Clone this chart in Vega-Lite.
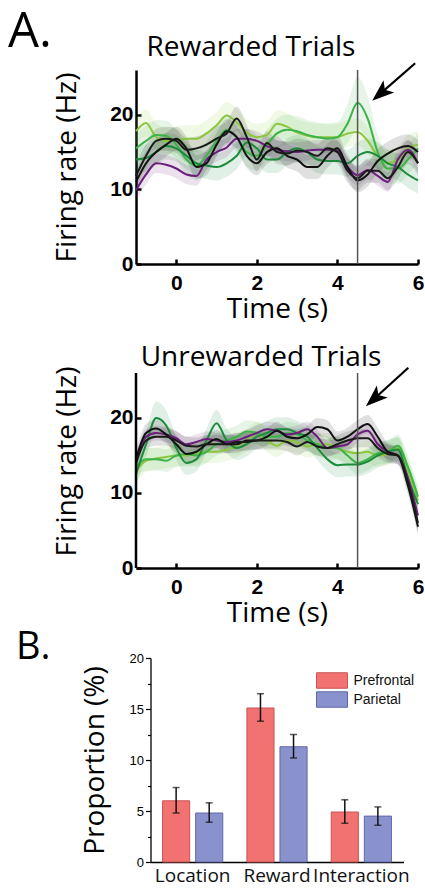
{
"$schema":"https://vega.github.io/schema/vega-lite/v6.json",
"background":"white",
"padding":{"left":8,"top":8,"right":0,"bottom":0},
"bounds":"flush","center":true,"spacing":90,
"resolve":{"legend":{"fill":"independent","stroke":"independent","color":"independent"}},
"title":{"text":"A.","anchor":"start","frame":"bounds","dx":-8,"dy":62,"offset":0,"fontSize":49,"font":"Open Sans","fontWeight":"normal","baseline":"alphabetic","color":"black"},
"config":{"view":{"stroke":null},"font":"Open Sans","axis":{"grid":false,"domainColor":"black","tickColor":"black","labelColor":"black","titleColor":"black"}},
"datasets":{
"rew":[
{"s":"L","t":-1,"v":17.8,"lo":16.0,"hi":19.6},{"s":"L","t":-0.75,"v":18.9,"lo":17.1,"hi":20.7},{"s":"L","t":-0.5,"v":17.0,"lo":15.2,"hi":18.8},{"s":"L","t":-0.25,"v":16.5,"lo":14.7,"hi":18.3},{"s":"L","t":0,"v":16.6,"lo":14.8,"hi":18.4},{"s":"L","t":0.25,"v":16.8,"lo":15.0,"hi":18.6},{"s":"L","t":0.5,"v":16.8,"lo":15.0,"hi":18.6},{"s":"L","t":0.75,"v":17.5,"lo":15.7,"hi":19.3},{"s":"L","t":1,"v":18.6,"lo":16.8,"hi":20.4},{"s":"L","t":1.25,"v":19.9,"lo":18.1,"hi":21.7},{"s":"L","t":1.5,"v":19.0,"lo":17.2,"hi":20.8},{"s":"L","t":1.75,"v":17.6,"lo":15.8,"hi":19.4},{"s":"L","t":2,"v":17.0,"lo":15.2,"hi":18.8},{"s":"L","t":2.25,"v":17.3,"lo":15.5,"hi":19.1},{"s":"L","t":2.5,"v":18.8,"lo":17.0,"hi":20.6},{"s":"L","t":2.75,"v":18.4,"lo":16.6,"hi":20.2},{"s":"L","t":3,"v":17.6,"lo":15.8,"hi":19.4},{"s":"L","t":3.25,"v":17.2,"lo":15.4,"hi":19.0},{"s":"L","t":3.5,"v":17.0,"lo":15.2,"hi":18.8},{"s":"L","t":3.75,"v":17.0,"lo":15.2,"hi":18.8},{"s":"L","t":4,"v":17.0,"lo":15.2,"hi":18.8},{"s":"L","t":4.25,"v":17.5,"lo":15.7,"hi":19.3},{"s":"L","t":4.5,"v":17.7,"lo":15.9,"hi":19.5},{"s":"L","t":4.75,"v":16.5,"lo":14.7,"hi":18.3},{"s":"L","t":5,"v":14.5,"lo":12.7,"hi":16.3},{"s":"L","t":5.25,"v":13.5,"lo":11.7,"hi":15.3},{"s":"L","t":5.5,"v":14.0,"lo":12.2,"hi":15.8},{"s":"L","t":5.75,"v":15.5,"lo":13.7,"hi":17.3},{"s":"L","t":6,"v":16.0,"lo":14.2,"hi":17.8},
{"s":"M","t":-1,"v":15.5,"lo":13.5,"hi":17.5},{"s":"M","t":-0.75,"v":16.5,"lo":14.5,"hi":18.5},{"s":"M","t":-0.5,"v":17.3,"lo":15.3,"hi":19.3},{"s":"M","t":-0.25,"v":17.2,"lo":15.2,"hi":19.2},{"s":"M","t":0,"v":16.0,"lo":14.0,"hi":18.0},{"s":"M","t":0.25,"v":14.0,"lo":12.0,"hi":16.0},{"s":"M","t":0.5,"v":13.2,"lo":11.2,"hi":15.2},{"s":"M","t":0.75,"v":14.5,"lo":12.5,"hi":16.5},{"s":"M","t":1,"v":16.5,"lo":14.5,"hi":18.5},{"s":"M","t":1.25,"v":18.0,"lo":16.0,"hi":20.0},{"s":"M","t":1.5,"v":17.0,"lo":15.0,"hi":19.0},{"s":"M","t":1.75,"v":15.0,"lo":13.0,"hi":17.0},{"s":"M","t":2,"v":14.5,"lo":12.5,"hi":16.5},{"s":"M","t":2.25,"v":16.0,"lo":14.0,"hi":18.0},{"s":"M","t":2.5,"v":17.5,"lo":15.5,"hi":19.5},{"s":"M","t":2.75,"v":18.0,"lo":16.0,"hi":20.0},{"s":"M","t":3,"v":17.8,"lo":15.8,"hi":19.8},{"s":"M","t":3.25,"v":17.3,"lo":15.3,"hi":19.3},{"s":"M","t":3.5,"v":17.0,"lo":15.0,"hi":19.0},{"s":"M","t":3.75,"v":16.8,"lo":14.8,"hi":18.8},{"s":"M","t":4,"v":17.0,"lo":15.0,"hi":19.0},{"s":"M","t":4.25,"v":18.8,"lo":16.2,"hi":21.4},{"s":"M","t":4.5,"v":21.6,"lo":18.1,"hi":25.1},{"s":"M","t":4.75,"v":19.5,"lo":16.5,"hi":22.5},{"s":"M","t":5,"v":15.0,"lo":12.7,"hi":17.3},{"s":"M","t":5.25,"v":12.8,"lo":10.8,"hi":14.8},{"s":"M","t":5.5,"v":12.8,"lo":10.8,"hi":14.8},{"s":"M","t":5.75,"v":14.0,"lo":12.0,"hi":16.0},{"s":"M","t":6,"v":15.5,"lo":13.5,"hi":17.5},
{"s":"D","t":-1,"v":14.0,"lo":12.2,"hi":15.8},{"s":"D","t":-0.75,"v":14.2,"lo":12.4,"hi":16.0},{"s":"D","t":-0.5,"v":15.0,"lo":13.2,"hi":16.8},{"s":"D","t":-0.25,"v":15.8,"lo":14.0,"hi":17.6},{"s":"D","t":0,"v":15.5,"lo":13.7,"hi":17.3},{"s":"D","t":0.25,"v":14.5,"lo":12.7,"hi":16.3},{"s":"D","t":0.5,"v":13.5,"lo":11.7,"hi":15.3},{"s":"D","t":0.75,"v":13.2,"lo":11.4,"hi":15.0},{"s":"D","t":1,"v":13.0,"lo":11.2,"hi":14.8},{"s":"D","t":1.25,"v":13.5,"lo":11.7,"hi":15.3},{"s":"D","t":1.5,"v":14.5,"lo":12.7,"hi":16.3},{"s":"D","t":1.75,"v":16.3,"lo":14.5,"hi":18.1},{"s":"D","t":2,"v":15.5,"lo":13.7,"hi":17.3},{"s":"D","t":2.25,"v":14.0,"lo":12.2,"hi":15.8},{"s":"D","t":2.5,"v":14.0,"lo":12.2,"hi":15.8},{"s":"D","t":2.75,"v":15.0,"lo":13.2,"hi":16.8},{"s":"D","t":3,"v":15.5,"lo":13.7,"hi":17.3},{"s":"D","t":3.25,"v":15.0,"lo":13.2,"hi":16.8},{"s":"D","t":3.5,"v":14.0,"lo":12.2,"hi":15.8},{"s":"D","t":3.75,"v":13.8,"lo":12.0,"hi":15.6},{"s":"D","t":4,"v":13.8,"lo":12.0,"hi":15.6},{"s":"D","t":4.25,"v":13.5,"lo":11.7,"hi":15.3},{"s":"D","t":4.5,"v":14.5,"lo":12.7,"hi":16.3},{"s":"D","t":4.75,"v":15.0,"lo":13.2,"hi":16.8},{"s":"D","t":5,"v":14.5,"lo":12.7,"hi":16.3},{"s":"D","t":5.25,"v":13.5,"lo":11.7,"hi":15.3},{"s":"D","t":5.5,"v":13.0,"lo":11.2,"hi":14.8},{"s":"D","t":5.75,"v":12.0,"lo":10.2,"hi":13.8},{"s":"D","t":6,"v":11.2,"lo":9.4,"hi":13.0},
{"s":"P","t":-1,"v":9.9,"lo":8.6,"hi":11.2},{"s":"P","t":-0.75,"v":12.0,"lo":10.7,"hi":13.3},{"s":"P","t":-0.5,"v":13.5,"lo":12.2,"hi":14.8},{"s":"P","t":-0.25,"v":13.3,"lo":12.0,"hi":14.6},{"s":"P","t":0,"v":12.8,"lo":11.5,"hi":14.1},{"s":"P","t":0.25,"v":12.0,"lo":10.7,"hi":13.3},{"s":"P","t":0.5,"v":11.8,"lo":10.5,"hi":13.1},{"s":"P","t":0.75,"v":14.0,"lo":12.7,"hi":15.3},{"s":"P","t":1,"v":15.0,"lo":13.7,"hi":16.3},{"s":"P","t":1.25,"v":15.6,"lo":14.3,"hi":16.9},{"s":"P","t":1.5,"v":16.8,"lo":15.5,"hi":18.1},{"s":"P","t":1.75,"v":16.8,"lo":15.5,"hi":18.1},{"s":"P","t":2,"v":16.5,"lo":15.2,"hi":17.8},{"s":"P","t":2.25,"v":15.8,"lo":14.5,"hi":17.1},{"s":"P","t":2.5,"v":15.3,"lo":14.0,"hi":16.6},{"s":"P","t":2.75,"v":15.1,"lo":13.8,"hi":16.4},{"s":"P","t":3,"v":15.0,"lo":13.7,"hi":16.3},{"s":"P","t":3.25,"v":15.2,"lo":13.9,"hi":16.5},{"s":"P","t":3.5,"v":15.3,"lo":14.0,"hi":16.6},{"s":"P","t":3.75,"v":15.3,"lo":14.0,"hi":16.6},{"s":"P","t":4,"v":15.2,"lo":13.9,"hi":16.5},{"s":"P","t":4.25,"v":13.0,"lo":11.7,"hi":14.3},{"s":"P","t":4.5,"v":11.9,"lo":10.6,"hi":13.2},{"s":"P","t":4.75,"v":12.6,"lo":11.3,"hi":13.9},{"s":"P","t":5,"v":11.8,"lo":10.5,"hi":13.1},{"s":"P","t":5.25,"v":11.0,"lo":9.7,"hi":12.3},{"s":"P","t":5.5,"v":14.0,"lo":12.7,"hi":15.3},{"s":"P","t":5.75,"v":15.3,"lo":14.0,"hi":16.6},{"s":"P","t":6,"v":13.5,"lo":12.2,"hi":14.8},
{"s":"K1","t":-1,"v":11.0,"lo":9.4,"hi":12.6},{"s":"K1","t":-0.75,"v":13.5,"lo":11.9,"hi":15.1},{"s":"K1","t":-0.5,"v":15.0,"lo":13.4,"hi":16.6},{"s":"K1","t":-0.25,"v":16.0,"lo":14.4,"hi":17.6},{"s":"K1","t":0,"v":16.8,"lo":15.2,"hi":18.4},{"s":"K1","t":0.25,"v":15.5,"lo":13.9,"hi":17.1},{"s":"K1","t":0.5,"v":13.0,"lo":11.4,"hi":14.6},{"s":"K1","t":0.75,"v":13.5,"lo":11.9,"hi":15.1},{"s":"K1","t":1,"v":16.0,"lo":14.4,"hi":17.6},{"s":"K1","t":1.25,"v":17.8,"lo":16.2,"hi":19.4},{"s":"K1","t":1.5,"v":17.0,"lo":15.4,"hi":18.6},{"s":"K1","t":1.75,"v":14.5,"lo":12.9,"hi":16.1},{"s":"K1","t":2,"v":13.5,"lo":11.9,"hi":15.1},{"s":"K1","t":2.25,"v":15.0,"lo":13.4,"hi":16.6},{"s":"K1","t":2.5,"v":15.5,"lo":13.9,"hi":17.1},{"s":"K1","t":2.75,"v":14.5,"lo":12.9,"hi":16.1},{"s":"K1","t":3,"v":14.0,"lo":12.4,"hi":15.6},{"s":"K1","t":3.25,"v":13.0,"lo":11.4,"hi":14.6},{"s":"K1","t":3.5,"v":13.0,"lo":11.4,"hi":14.6},{"s":"K1","t":3.75,"v":14.5,"lo":12.9,"hi":16.1},{"s":"K1","t":4,"v":15.5,"lo":13.9,"hi":17.1},{"s":"K1","t":4.25,"v":13.0,"lo":11.4,"hi":14.6},{"s":"K1","t":4.5,"v":11.2,"lo":9.6,"hi":12.8},{"s":"K1","t":4.75,"v":12.0,"lo":10.4,"hi":13.6},{"s":"K1","t":5,"v":13.8,"lo":12.2,"hi":15.4},{"s":"K1","t":5.25,"v":14.8,"lo":13.2,"hi":16.4},{"s":"K1","t":5.5,"v":15.5,"lo":13.9,"hi":17.1},{"s":"K1","t":5.75,"v":15.8,"lo":14.2,"hi":17.4},{"s":"K1","t":6,"v":15.0,"lo":13.4,"hi":16.6},
{"s":"K2","t":-1,"v":11.8,"lo":10.2,"hi":13.4},{"s":"K2","t":-0.75,"v":14.5,"lo":12.9,"hi":16.1},{"s":"K2","t":-0.5,"v":16.5,"lo":14.9,"hi":18.1},{"s":"K2","t":-0.25,"v":16.8,"lo":15.2,"hi":18.4},{"s":"K2","t":0,"v":16.5,"lo":14.9,"hi":18.1},{"s":"K2","t":0.25,"v":15.3,"lo":13.7,"hi":16.9},{"s":"K2","t":0.5,"v":15.5,"lo":13.9,"hi":17.1},{"s":"K2","t":0.75,"v":16.0,"lo":14.4,"hi":17.6},{"s":"K2","t":1,"v":16.8,"lo":15.2,"hi":18.4},{"s":"K2","t":1.25,"v":17.5,"lo":15.9,"hi":19.1},{"s":"K2","t":1.5,"v":19.5,"lo":17.9,"hi":21.1},{"s":"K2","t":1.75,"v":17.0,"lo":15.4,"hi":18.6},{"s":"K2","t":2,"v":14.0,"lo":12.4,"hi":15.6},{"s":"K2","t":2.25,"v":16.2,"lo":14.6,"hi":17.8},{"s":"K2","t":2.5,"v":15.0,"lo":13.4,"hi":16.6},{"s":"K2","t":2.75,"v":14.8,"lo":13.2,"hi":16.4},{"s":"K2","t":3,"v":15.2,"lo":13.6,"hi":16.8},{"s":"K2","t":3.25,"v":15.0,"lo":13.4,"hi":16.6},{"s":"K2","t":3.5,"v":14.5,"lo":12.9,"hi":16.1},{"s":"K2","t":3.75,"v":15.5,"lo":13.9,"hi":17.1},{"s":"K2","t":4,"v":15.0,"lo":13.4,"hi":16.6},{"s":"K2","t":4.25,"v":12.5,"lo":10.9,"hi":14.1},{"s":"K2","t":4.5,"v":11.5,"lo":9.9,"hi":13.1},{"s":"K2","t":4.75,"v":12.5,"lo":10.9,"hi":14.1},{"s":"K2","t":5,"v":12.5,"lo":10.9,"hi":14.1},{"s":"K2","t":5.25,"v":11.5,"lo":9.9,"hi":13.1},{"s":"K2","t":5.5,"v":13.0,"lo":11.4,"hi":14.6},{"s":"K2","t":5.75,"v":15.0,"lo":13.4,"hi":16.6},{"s":"K2","t":6,"v":13.5,"lo":11.9,"hi":15.1}
],
"unrew":[
{"s":"L","t":-1,"v":13.0,"lo":11.5,"hi":14.5},{"s":"L","t":-0.75,"v":14.3,"lo":12.8,"hi":15.8},{"s":"L","t":-0.5,"v":14.6,"lo":13.1,"hi":16.1},{"s":"L","t":-0.25,"v":14.8,"lo":13.3,"hi":16.3},{"s":"L","t":0,"v":15.0,"lo":13.5,"hi":16.5},{"s":"L","t":0.25,"v":15.0,"lo":13.5,"hi":16.5},{"s":"L","t":0.5,"v":15.3,"lo":13.8,"hi":16.8},{"s":"L","t":0.75,"v":15.5,"lo":14.0,"hi":17.0},{"s":"L","t":1,"v":15.5,"lo":14.0,"hi":17.0},{"s":"L","t":1.25,"v":15.8,"lo":14.3,"hi":17.3},{"s":"L","t":1.5,"v":16.3,"lo":14.8,"hi":17.8},{"s":"L","t":1.75,"v":17.0,"lo":15.5,"hi":18.5},{"s":"L","t":2,"v":18.0,"lo":16.5,"hi":19.5},{"s":"L","t":2.25,"v":17.0,"lo":15.5,"hi":18.5},{"s":"L","t":2.5,"v":16.3,"lo":14.8,"hi":17.8},{"s":"L","t":2.75,"v":17.0,"lo":15.5,"hi":18.5},{"s":"L","t":3,"v":16.8,"lo":15.3,"hi":18.3},{"s":"L","t":3.25,"v":16.2,"lo":14.7,"hi":17.7},{"s":"L","t":3.5,"v":16.5,"lo":15.0,"hi":18.0},{"s":"L","t":3.75,"v":16.5,"lo":15.0,"hi":18.0},{"s":"L","t":4,"v":16.0,"lo":14.5,"hi":17.5},{"s":"L","t":4.25,"v":15.5,"lo":14.0,"hi":17.0},{"s":"L","t":4.5,"v":15.3,"lo":13.8,"hi":16.8},{"s":"L","t":4.75,"v":15.5,"lo":14.0,"hi":17.0},{"s":"L","t":5,"v":15.0,"lo":13.5,"hi":16.5},{"s":"L","t":5.25,"v":15.2,"lo":13.7,"hi":16.7},{"s":"L","t":5.5,"v":16.0,"lo":14.5,"hi":17.5},{"s":"L","t":5.75,"v":13.0,"lo":11.5,"hi":14.5},{"s":"L","t":6,"v":9.0,"lo":7.5,"hi":10.5},
{"s":"M","t":-1,"v":13.5,"lo":12.0,"hi":15.0},{"s":"M","t":-0.75,"v":14.5,"lo":13.0,"hi":16.0},{"s":"M","t":-0.5,"v":14.5,"lo":13.0,"hi":16.0},{"s":"M","t":-0.25,"v":14.3,"lo":12.8,"hi":15.8},{"s":"M","t":0,"v":15.0,"lo":13.5,"hi":16.5},{"s":"M","t":0.25,"v":15.2,"lo":13.7,"hi":16.7},{"s":"M","t":0.5,"v":15.0,"lo":13.5,"hi":16.5},{"s":"M","t":0.75,"v":15.5,"lo":14.0,"hi":17.0},{"s":"M","t":1,"v":16.5,"lo":15.0,"hi":18.0},{"s":"M","t":1.25,"v":17.0,"lo":15.5,"hi":18.5},{"s":"M","t":1.5,"v":17.5,"lo":16.0,"hi":19.0},{"s":"M","t":1.75,"v":18.2,"lo":16.7,"hi":19.7},{"s":"M","t":2,"v":18.0,"lo":16.5,"hi":19.5},{"s":"M","t":2.25,"v":17.5,"lo":16.0,"hi":19.0},{"s":"M","t":2.5,"v":17.5,"lo":16.0,"hi":19.0},{"s":"M","t":2.75,"v":18.0,"lo":16.5,"hi":19.5},{"s":"M","t":3,"v":17.8,"lo":16.3,"hi":19.3},{"s":"M","t":3.25,"v":17.0,"lo":15.5,"hi":18.5},{"s":"M","t":3.5,"v":16.5,"lo":15.0,"hi":18.0},{"s":"M","t":3.75,"v":16.0,"lo":14.5,"hi":17.5},{"s":"M","t":4,"v":16.0,"lo":14.5,"hi":17.5},{"s":"M","t":4.25,"v":15.0,"lo":13.5,"hi":16.5},{"s":"M","t":4.5,"v":14.0,"lo":12.5,"hi":15.5},{"s":"M","t":4.75,"v":14.5,"lo":13.0,"hi":16.0},{"s":"M","t":5,"v":15.3,"lo":13.8,"hi":16.8},{"s":"M","t":5.25,"v":15.5,"lo":14.0,"hi":17.0},{"s":"M","t":5.5,"v":16.3,"lo":14.8,"hi":17.8},{"s":"M","t":5.75,"v":13.5,"lo":12.0,"hi":15.0},{"s":"M","t":6,"v":9.5,"lo":8.0,"hi":11.0},
{"s":"D","t":-1,"v":12.5,"lo":10.9,"hi":14.1},{"s":"D","t":-0.75,"v":16.5,"lo":14.9,"hi":18.1},{"s":"D","t":-0.5,"v":20.0,"lo":17.8,"hi":22.2},{"s":"D","t":-0.25,"v":19.0,"lo":17.0,"hi":21.0},{"s":"D","t":0,"v":16.0,"lo":14.4,"hi":17.6},{"s":"D","t":0.25,"v":14.0,"lo":12.4,"hi":15.6},{"s":"D","t":0.5,"v":14.5,"lo":12.9,"hi":16.1},{"s":"D","t":0.75,"v":17.0,"lo":15.4,"hi":18.6},{"s":"D","t":1,"v":19.3,"lo":17.5,"hi":21.1},{"s":"D","t":1.25,"v":17.0,"lo":15.4,"hi":18.6},{"s":"D","t":1.5,"v":16.0,"lo":14.4,"hi":17.6},{"s":"D","t":1.75,"v":16.5,"lo":14.9,"hi":18.1},{"s":"D","t":2,"v":17.5,"lo":15.9,"hi":19.1},{"s":"D","t":2.25,"v":18.0,"lo":16.4,"hi":19.6},{"s":"D","t":2.5,"v":18.5,"lo":16.9,"hi":20.1},{"s":"D","t":2.75,"v":18.5,"lo":16.9,"hi":20.1},{"s":"D","t":3,"v":18.0,"lo":16.4,"hi":19.6},{"s":"D","t":3.25,"v":17.5,"lo":15.9,"hi":19.1},{"s":"D","t":3.5,"v":16.0,"lo":14.4,"hi":17.6},{"s":"D","t":3.75,"v":14.5,"lo":12.9,"hi":16.1},{"s":"D","t":4,"v":13.7,"lo":12.1,"hi":15.3},{"s":"D","t":4.25,"v":13.8,"lo":12.2,"hi":15.4},{"s":"D","t":4.5,"v":13.8,"lo":12.2,"hi":15.4},{"s":"D","t":4.75,"v":14.2,"lo":12.6,"hi":15.8},{"s":"D","t":5,"v":15.0,"lo":13.4,"hi":16.6},{"s":"D","t":5.25,"v":15.5,"lo":13.9,"hi":17.1},{"s":"D","t":5.5,"v":15.8,"lo":14.2,"hi":17.4},{"s":"D","t":5.75,"v":12.0,"lo":10.4,"hi":13.6},{"s":"D","t":6,"v":8.5,"lo":6.9,"hi":10.1},
{"s":"P","t":-1,"v":14.0,"lo":13.0,"hi":15.0},{"s":"P","t":-0.75,"v":17.5,"lo":16.5,"hi":18.5},{"s":"P","t":-0.5,"v":18.0,"lo":17.0,"hi":19.0},{"s":"P","t":-0.25,"v":17.8,"lo":16.8,"hi":18.8},{"s":"P","t":0,"v":17.3,"lo":16.3,"hi":18.3},{"s":"P","t":0.25,"v":16.5,"lo":15.5,"hi":17.5},{"s":"P","t":0.5,"v":16.8,"lo":15.8,"hi":17.8},{"s":"P","t":0.75,"v":17.2,"lo":16.2,"hi":18.2},{"s":"P","t":1,"v":17.0,"lo":16.0,"hi":18.0},{"s":"P","t":1.25,"v":16.8,"lo":15.8,"hi":17.8},{"s":"P","t":1.5,"v":17.0,"lo":16.0,"hi":18.0},{"s":"P","t":1.75,"v":17.5,"lo":16.5,"hi":18.5},{"s":"P","t":2,"v":18.0,"lo":17.0,"hi":19.0},{"s":"P","t":2.25,"v":18.5,"lo":17.5,"hi":19.5},{"s":"P","t":2.5,"v":18.3,"lo":17.3,"hi":19.3},{"s":"P","t":2.75,"v":17.8,"lo":16.8,"hi":18.8},{"s":"P","t":3,"v":18.0,"lo":17.0,"hi":19.0},{"s":"P","t":3.25,"v":18.5,"lo":17.5,"hi":19.5},{"s":"P","t":3.5,"v":17.5,"lo":16.5,"hi":18.5},{"s":"P","t":3.75,"v":16.0,"lo":15.0,"hi":17.0},{"s":"P","t":4,"v":16.2,"lo":15.2,"hi":17.2},{"s":"P","t":4.25,"v":16.5,"lo":15.5,"hi":17.5},{"s":"P","t":4.5,"v":17.8,"lo":16.8,"hi":18.8},{"s":"P","t":4.75,"v":18.3,"lo":17.3,"hi":19.3},{"s":"P","t":5,"v":16.5,"lo":15.5,"hi":17.5},{"s":"P","t":5.25,"v":15.5,"lo":14.5,"hi":16.5},{"s":"P","t":5.5,"v":15.0,"lo":14.0,"hi":16.0},{"s":"P","t":5.75,"v":12.0,"lo":11.0,"hi":13.0},{"s":"P","t":6,"v":7.0,"lo":6.0,"hi":8.0},
{"s":"K1","t":-1,"v":14.5,"lo":13.3,"hi":15.7},{"s":"K1","t":-0.75,"v":18.0,"lo":16.8,"hi":19.2},{"s":"K1","t":-0.5,"v":18.6,"lo":17.4,"hi":19.8},{"s":"K1","t":-0.25,"v":17.8,"lo":16.6,"hi":19.0},{"s":"K1","t":0,"v":16.5,"lo":15.3,"hi":17.7},{"s":"K1","t":0.25,"v":15.2,"lo":14.0,"hi":16.4},{"s":"K1","t":0.5,"v":15.5,"lo":14.3,"hi":16.7},{"s":"K1","t":0.75,"v":16.5,"lo":15.3,"hi":17.7},{"s":"K1","t":1,"v":17.2,"lo":16.0,"hi":18.4},{"s":"K1","t":1.25,"v":16.5,"lo":15.3,"hi":17.7},{"s":"K1","t":1.5,"v":16.5,"lo":15.3,"hi":17.7},{"s":"K1","t":1.75,"v":17.0,"lo":15.8,"hi":18.2},{"s":"K1","t":2,"v":17.0,"lo":15.8,"hi":18.2},{"s":"K1","t":2.25,"v":17.5,"lo":16.3,"hi":18.7},{"s":"K1","t":2.5,"v":18.3,"lo":17.1,"hi":19.5},{"s":"K1","t":2.75,"v":17.5,"lo":16.3,"hi":18.7},{"s":"K1","t":3,"v":17.3,"lo":16.1,"hi":18.5},{"s":"K1","t":3.25,"v":17.8,"lo":16.6,"hi":19.0},{"s":"K1","t":3.5,"v":18.8,"lo":17.6,"hi":20.0},{"s":"K1","t":3.75,"v":18.5,"lo":17.3,"hi":19.7},{"s":"K1","t":4,"v":17.0,"lo":15.8,"hi":18.2},{"s":"K1","t":4.25,"v":17.5,"lo":16.3,"hi":18.7},{"s":"K1","t":4.5,"v":18.5,"lo":17.3,"hi":19.7},{"s":"K1","t":4.75,"v":19.2,"lo":18.0,"hi":20.4},{"s":"K1","t":5,"v":17.5,"lo":16.3,"hi":18.7},{"s":"K1","t":5.25,"v":15.5,"lo":14.3,"hi":16.7},{"s":"K1","t":5.5,"v":15.0,"lo":13.8,"hi":16.2},{"s":"K1","t":5.75,"v":11.0,"lo":9.8,"hi":12.2},{"s":"K1","t":6,"v":5.5,"lo":4.3,"hi":6.7},
{"s":"K2","t":-1,"v":14.0,"lo":12.8,"hi":15.2},{"s":"K2","t":-0.75,"v":17.0,"lo":15.8,"hi":18.2},{"s":"K2","t":-0.5,"v":17.5,"lo":16.3,"hi":18.7},{"s":"K2","t":-0.25,"v":17.5,"lo":16.3,"hi":18.7},{"s":"K2","t":0,"v":17.0,"lo":15.8,"hi":18.2},{"s":"K2","t":0.25,"v":16.3,"lo":15.1,"hi":17.5},{"s":"K2","t":0.5,"v":16.2,"lo":15.0,"hi":17.4},{"s":"K2","t":0.75,"v":16.5,"lo":15.3,"hi":17.7},{"s":"K2","t":1,"v":16.5,"lo":15.3,"hi":17.7},{"s":"K2","t":1.25,"v":16.5,"lo":15.3,"hi":17.7},{"s":"K2","t":1.5,"v":16.8,"lo":15.6,"hi":18.0},{"s":"K2","t":1.75,"v":16.8,"lo":15.6,"hi":18.0},{"s":"K2","t":2,"v":17.0,"lo":15.8,"hi":18.2},{"s":"K2","t":2.25,"v":17.0,"lo":15.8,"hi":18.2},{"s":"K2","t":2.5,"v":17.0,"lo":15.8,"hi":18.2},{"s":"K2","t":2.75,"v":16.8,"lo":15.6,"hi":18.0},{"s":"K2","t":3,"v":16.2,"lo":15.0,"hi":17.4},{"s":"K2","t":3.25,"v":16.8,"lo":15.6,"hi":18.0},{"s":"K2","t":3.5,"v":16.2,"lo":15.0,"hi":17.4},{"s":"K2","t":3.75,"v":16.0,"lo":14.8,"hi":17.2},{"s":"K2","t":4,"v":16.5,"lo":15.3,"hi":17.7},{"s":"K2","t":4.25,"v":17.0,"lo":15.8,"hi":18.2},{"s":"K2","t":4.5,"v":17.3,"lo":16.1,"hi":18.5},{"s":"K2","t":4.75,"v":17.3,"lo":16.1,"hi":18.5},{"s":"K2","t":5,"v":16.0,"lo":14.8,"hi":17.2},{"s":"K2","t":5.25,"v":15.2,"lo":14.0,"hi":16.4},{"s":"K2","t":5.5,"v":15.0,"lo":13.8,"hi":16.2},{"s":"K2","t":5.75,"v":11.5,"lo":10.3,"hi":12.7},{"s":"K2","t":6,"v":6.0,"lo":4.8,"hi":7.2}
],
"bars":[
{"cat":"Location","region":"Prefrontal","pct":6.0,"lo":4.8,"hi":7.3},
{"cat":"Location","region":"Parietal","pct":4.8,"lo":3.9,"hi":5.8},
{"cat":"Reward","region":"Prefrontal","pct":15.1,"lo":13.8,"hi":16.5},
{"cat":"Reward","region":"Parietal","pct":11.3,"lo":10.2,"hi":12.5},
{"cat":"Interaction","region":"Prefrontal","pct":4.9,"lo":3.8,"hi":6.1},
{"cat":"Interaction","region":"Parietal","pct":4.5,"lo":3.6,"hi":5.4}
]
},
"vconcat":[
  {"width":282,"height":194,
   "title":{"text":"Rewarded Trials","font":"Open Sans","fontSize":28,"fontWeight":"normal","anchor":"middle","frame":"group","dx":-26,"dy":30,"baseline":"alphabetic","offset":8,"color":"black"},
   "data":{"name":"rew"},
   "layer":[
    {"mark":{"type":"area","interpolate":"monotone","opacity":0.13},
     "encoding":{"x":{"field":"t","type":"quantitative","scale":{"domain":[-1,6],"nice":false,"zero":false},"axis":{"values":[0,2,4,6],"title":"Time (s)","titleFont":"Open Sans","titleFontSize":28,"titleFontWeight":"normal","titlePadding":2,"labelFont":"Liberation Sans","labelFontSize":21,"labelFontWeight":"bold","labelPadding":13,"labelFlush":false,"tickSize":-5,"tickWidth":2.5,"domainWidth":2.5}},
      "y":{"field":"lo","type":"quantitative","scale":{"domain":[0,26],"nice":false},"axis":{"values":[0,10,20],"title":"Firing rate (Hz)","titleFont":"Open Sans","titleFontSize":28,"titleFontWeight":"normal","titlePadding":28,"labelFont":"Liberation Sans","labelFontSize":21,"labelFontWeight":"bold","labelPadding":8,"tickSize":-5,"tickWidth":2.5,"domainWidth":2.5}},
      "y2":{"field":"hi"},
      "color":{"field":"s","type":"nominal","scale":{"domain":["L","M","D","P","K1","K2"],"range":["#8cc63f","#3db449","#1b8b3b","#6b1e7b","#111111","#1a1a1a"]},"legend":null}}},
    {"mark":{"type":"line","interpolate":"monotone","strokeWidth":2},
     "encoding":{"x":{"field":"t","type":"quantitative"},"y":{"field":"v","type":"quantitative"},"color":{"field":"s","type":"nominal","legend":null}}},
    {"data":{"values":[{}]},"mark":{"type":"rule","color":"#555","strokeWidth":1.5},"encoding":{"x":{"datum":4.5},"y":{"datum":0},"y2":{"datum":26}}},
    {"data":{"values":[{}]},"mark":{"type":"rule","color":"black","strokeWidth":2.2},"encoding":{"x":{"datum":5.93},"y":{"datum":26.9},"x2":{"datum":5.08},"y2":{"datum":22.9}}},
    {"data":{"values":[{}]},"mark":{"type":"point","filled":true,"color":"black","opacity":1,"shape":"M0,-1L0.7,0.9L0,0.45L-0.7,0.9Z","size":540,"angle":229},"encoding":{"x":{"datum":5.08},"y":{"datum":22.9}}}
   ]},
  {"width":282,"height":214,
   "title":{"text":"Unrewarded Trials","font":"Open Sans","fontSize":28,"fontWeight":"normal","anchor":"middle","frame":"group","dx":-16,"dy":40,"baseline":"alphabetic","offset":0,"color":"black"},
   "data":{"name":"unrew"},
   "layer":[
    {"mark":{"type":"area","interpolate":"monotone","opacity":0.13},
     "encoding":{"x":{"field":"t","type":"quantitative","scale":{"domain":[-1,6],"nice":false,"zero":false},"axis":{"values":[0,2,4,6],"title":"Time (s)","titleFont":"Open Sans","titleFontSize":28,"titleFontWeight":"normal","titlePadding":2,"labelFont":"Liberation Sans","labelFontSize":21,"labelFontWeight":"bold","labelPadding":13,"labelFlush":false,"tickSize":-5,"tickWidth":2.5,"domainWidth":2.5}},
      "y":{"field":"lo","type":"quantitative","scale":{"domain":[0,28.53],"nice":false},"axis":{"values":[0,10,20],"domain":false,"title":"Firing rate (Hz)","titleFont":"Open Sans","titleFontSize":28,"titleFontWeight":"normal","titlePadding":28,"labelFont":"Liberation Sans","labelFontSize":21,"labelFontWeight":"bold","labelPadding":8,"tickSize":-5,"tickWidth":2.5}},
      "y2":{"field":"hi"},
      "color":{"field":"s","type":"nominal","scale":{"domain":["L","M","D","P","K1","K2"],"range":["#8cc63f","#3db449","#1b8b3b","#6b1e7b","#111111","#1a1a1a"]},"legend":null}}},
    {"mark":{"type":"line","interpolate":"monotone","strokeWidth":2},
     "encoding":{"x":{"field":"t","type":"quantitative"},"y":{"field":"v","type":"quantitative"},"color":{"field":"s","type":"nominal","legend":null}}},
    {"data":{"values":[{}]},"mark":{"type":"rule","color":"black","strokeWidth":2.5},"encoding":{"x":{"datum":-1},"y":{"datum":0},"y2":{"datum":26}}},
    {"data":{"values":[{}]},"mark":{"type":"rule","color":"#555","strokeWidth":1.5},"encoding":{"x":{"datum":4.5},"y":{"datum":0},"y2":{"datum":26}}},
    {"data":{"values":[{}]},"mark":{"type":"rule","color":"black","strokeWidth":2.2},"encoding":{"x":{"datum":5.76},"y":{"datum":26.7},"x2":{"datum":4.92},"y2":{"datum":22.6}}},
    {"data":{"values":[{}]},"mark":{"type":"point","filled":true,"color":"black","opacity":1,"shape":"M0,-1L0.7,0.9L0,0.45L-0.7,0.9Z","size":540,"angle":228},"encoding":{"x":{"datum":4.92},"y":{"datum":22.6}}}
   ]},
{"width":253,"height":204,
 "title":{"text":"B.","anchor":"start","frame":"bounds","dx":-65,"dy":45,"offset":0,"fontSize":38,"font":"Open Sans","fontWeight":"normal","baseline":"alphabetic","color":"black"},
 "data":{"name":"bars"},
 "resolve":{"axis":{"y":"independent"}},
 "encoding":{
  "x":{"field":"cat","type":"nominal","sort":["Location","Reward","Interaction"],"scale":{"paddingInner":0.2,"paddingOuter":0.1},"axis":{"title":null,"labelAngle":0,"labelFont":"Open Sans","labelFontSize":19,"labelPadding":4,"ticks":false,"domainWidth":1.3,"labelOverlap":false,"labelColor":"#111"}},
  "xOffset":{"field":"region","type":"nominal","sort":["Prefrontal","Parietal"],"scale":{"paddingInner":0.18,"paddingOuter":0.11}}
 },
 "layer":[
  {"mark":{"type":"bar","strokeWidth":1},
   "encoding":{"y":{"field":"pct","type":"quantitative","scale":{"domain":[0,20]},"axis":{"orient":"left","values":[0,5,10,15,20],"title":"Proportion (%)","titleFont":"Open Sans","titleFontSize":28,"titleFontWeight":"normal","titlePadding":20,"labelFont":"Liberation Sans","labelFontSize":13,"labelPadding":2,"tickSize":5,"tickWidth":1.2,"domainWidth":1.3}},
    "fill":{"field":"region","type":"nominal","scale":{"domain":["Prefrontal","Parietal"],"range":["#f27171","#8a92cd"]},"legend":{"title":null,"orient":"none","legendX":173,"legendY":14,"symbolType":"M-2,-1H2V1H-2Z","symbolSize":240,"symbolStrokeWidth":1,"labelFont":"Liberation Sans","labelFontSize":14,"labelColor":"#111","labelOffset":13,"rowPadding":-2}},
    "stroke":{"field":"region","type":"nominal","scale":{"domain":["Prefrontal","Parietal"],"range":["#c85555","#5f68a8"]},"legend":{"title":null,"orient":"none","legendX":173,"legendY":14,"symbolType":"M-2,-1H2V1H-2Z","symbolSize":240,"symbolStrokeWidth":1,"labelFont":"Liberation Sans","labelFontSize":14,"labelColor":"#111","labelOffset":13,"rowPadding":-2}}}},
  {"mark":{"type":"rule","color":"#111","strokeWidth":1.5},"encoding":{"y":{"field":"lo","type":"quantitative","scale":{"domain":[0,20]},"axis":{"orient":"left","values":[2.5,7.5,12.5,17.5],"labels":false,"domain":false,"tickSize":3,"tickWidth":1.2,"title":null}},"y2":{"field":"hi"}}},
  {"mark":{"type":"tick","color":"#111","thickness":1.5,"size":7},"encoding":{"y":{"field":"lo","type":"quantitative","axis":null}}},
  {"mark":{"type":"tick","color":"#111","thickness":1.5,"size":7},"encoding":{"y":{"field":"hi","type":"quantitative","axis":null}}}
 ]}
]
}
